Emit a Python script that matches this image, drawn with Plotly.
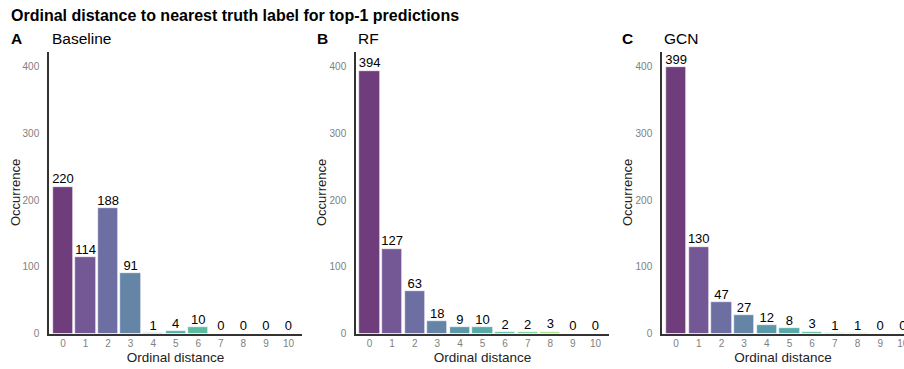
import plotly.graph_objects as go
from plotly.colors import sample_colorscale

distances = list(range(11))
tick_labels = [str(d) for d in distances]
baseline = [220, 114, 188, 91, 1, 4, 10, 0, 0, 0, 0]
rf = [394, 127, 63, 18, 9, 10, 2, 2, 3, 0, 0]
gcn = [399, 130, 47, 27, 12, 8, 3, 1, 1, 0, 0]
panel_letters = ["A", "B", "C"]
panel_names = ["Baseline", "RF", "GCN"]
y_ticks = [0, 100, 200, 300, 400]

W, H = 904, 369
colors = sample_colorscale("Viridis", [i / 10 for i in range(11)])

panels = [
    dict(vals=baseline, x0=49, x1=302, xr=[-0.62, 10.6], ytitle_x=15, letter_x=9, name_x=50),
    dict(vals=rf, x0=356, x1=609, xr=[-0.6, 10.6], ytitle_x=321, letter_x=315, name_x=356),
    dict(vals=gcn, x0=662, x1=904, xr=[-0.62, 10.05], ytitle_x=627, letter_x=620, name_x=662),
]
y_top, y_bot = 52, 333.5
ydom = [(H - y_bot) / H, (H - y_top) / H]
yrange = [0, (y_bot - y_top) / ((y_bot - 66.5) / 400)]

fig = go.Figure()
font_fam = "Liberation Sans, Arial, sans-serif"
annotations = []
for i, p in enumerate(panels):
    k = "" if i == 0 else str(i + 1)
    fig.add_trace(go.Bar(
        x=distances, y=p["vals"], width=0.9,
        marker=dict(color=colors, opacity=0.76, line=dict(color="white", width=0.6)),
        xaxis="x" + k, yaxis="y" + k, showlegend=False, hoverinfo="skip",
    ))
    fig.add_trace(go.Scatter(
        x=distances, y=p["vals"], mode="text", text=[str(v) for v in p["vals"]],
        textposition="top center", textfont=dict(size=13, color="black", family=font_fam),
        xaxis="x" + k, yaxis="y" + k, showlegend=False, cliponaxis=False, hoverinfo="skip",
    ))
    fig.update_layout({
        "xaxis" + k: dict(
            domain=[p["x0"] / W, min(p["x1"] / W, 1.0)], range=p["xr"], anchor="y" + k,
            tickmode="array", tickvals=distances, ticktext=tick_labels, automargin=False,
            showline=True, linecolor="#333333", linewidth=1.5, showgrid=False, zeroline=False,
            ticks="", ticklabeloverflow="allow",
            tickfont=dict(size=10, color="#808080", family=font_fam),
            title=dict(text="Ordinal distance", font=dict(size=13.5, color="#222", family=font_fam), standoff=4),
        ),
        "yaxis" + k: dict(
            domain=ydom, range=yrange, anchor="x" + k, automargin=False,
            tickmode="array", tickvals=y_ticks, showline=True, linecolor="#333333", linewidth=1.5,
            showgrid=False, zeroline=False, ticks="", ticklabelstandoff=6,
            tickfont=dict(size=10, color="#808080", family=font_fam),
        ),
    })
    annotations.append(dict(x=p["ytitle_x"] / W, y=(H - 193) / H, xref="paper", yref="paper",
                            text="Occurrence", textangle=-90, showarrow=False,
                            font=dict(size=13, color="#222", family=font_fam),
                            xanchor="center", yanchor="middle"))
    annotations.append(dict(x=p["letter_x"] / W, y=(H - 38) / H, xref="paper", yref="paper",
                            text="<b>" + panel_letters[i] + "</b>", showarrow=False,
                            font=dict(size=15.5, color="black", family=font_fam),
                            xanchor="left", yanchor="middle"))
    annotations.append(dict(x=p["name_x"] / W, y=(H - 38) / H, xref="paper", yref="paper",
                            text=panel_names[i], showarrow=False,
                            font=dict(size=15.5, color="black", family=font_fam),
                            xanchor="left", yanchor="middle"))

annotations.append(dict(x=9 / W, y=(H - 15) / H, xref="paper", yref="paper",
                        text="<b>Ordinal distance to nearest truth label for top-1 predictions</b>",
                        showarrow=False, font=dict(size=16, color="black", family=font_fam),
                        xanchor="left", yanchor="middle"))

fig.update_layout(
    width=W, height=H, margin=dict(l=0, r=0, t=0, b=0, autoexpand=False),
    paper_bgcolor="white", plot_bgcolor="white", bargap=0,
    annotations=annotations, font=dict(family=font_fam),
)
fig.write_html("out.html", config={"displayModeBar": False},
               post_script="document.body.style.margin='0';document.body.style.overflow='hidden';")
